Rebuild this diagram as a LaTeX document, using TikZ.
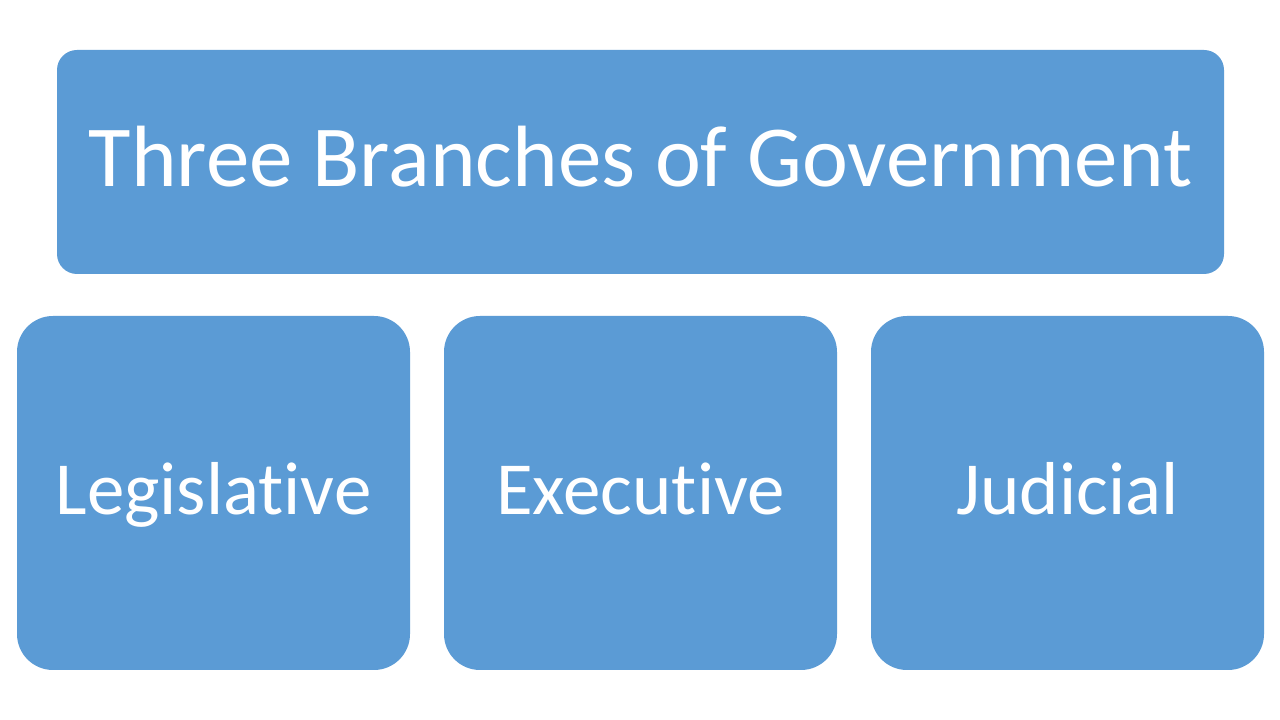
\documentclass[tikz,border=0pt]{standalone}
\usepackage{fontspec}
\setmainfont{Carlito}[Ligatures={NoCommon,NoDiscretionary,NoContextual}]
\definecolor{boxblue}{HTML}{5B9BD5}
\begin{document}
\begin{tikzpicture}[x=1pt,y=1pt,
  bluebox/.style={fill=boxblue, draw=none, rounded corners=#1},
  lbl/.style={text=white, inner sep=0pt}]
\useasboundingbox (0,0) rectangle (1280,720);
\fill[white] (0,0) rectangle (1280,720);
% top box
\path[bluebox=20] (57,446) rectangle (1224,670);
\node[lbl, font=\fontsize{87}{95}\selectfont, anchor=base] (title) at (640.5,533) {Three Branches of Government};
% bottom boxes
\path[bluebox=36] (17,50) rectangle (410,404);
\path[bluebox=36] (444,50) rectangle (837,404);
\path[bluebox=36] (871,50) rectangle (1264,404);
\node[lbl, font=\fontsize{75}{83}\selectfont, anchor=base] (leg) at (213.5,205) {Legislative};
\node[lbl, font=\fontsize{75}{83}\selectfont, anchor=base] (exe) at (640.5,205) {Executive};
\node[lbl, font=\fontsize{75}{83}\selectfont, anchor=base] (jud) at (1067.5,205) {Judicial};
\end{tikzpicture}
\end{document}
